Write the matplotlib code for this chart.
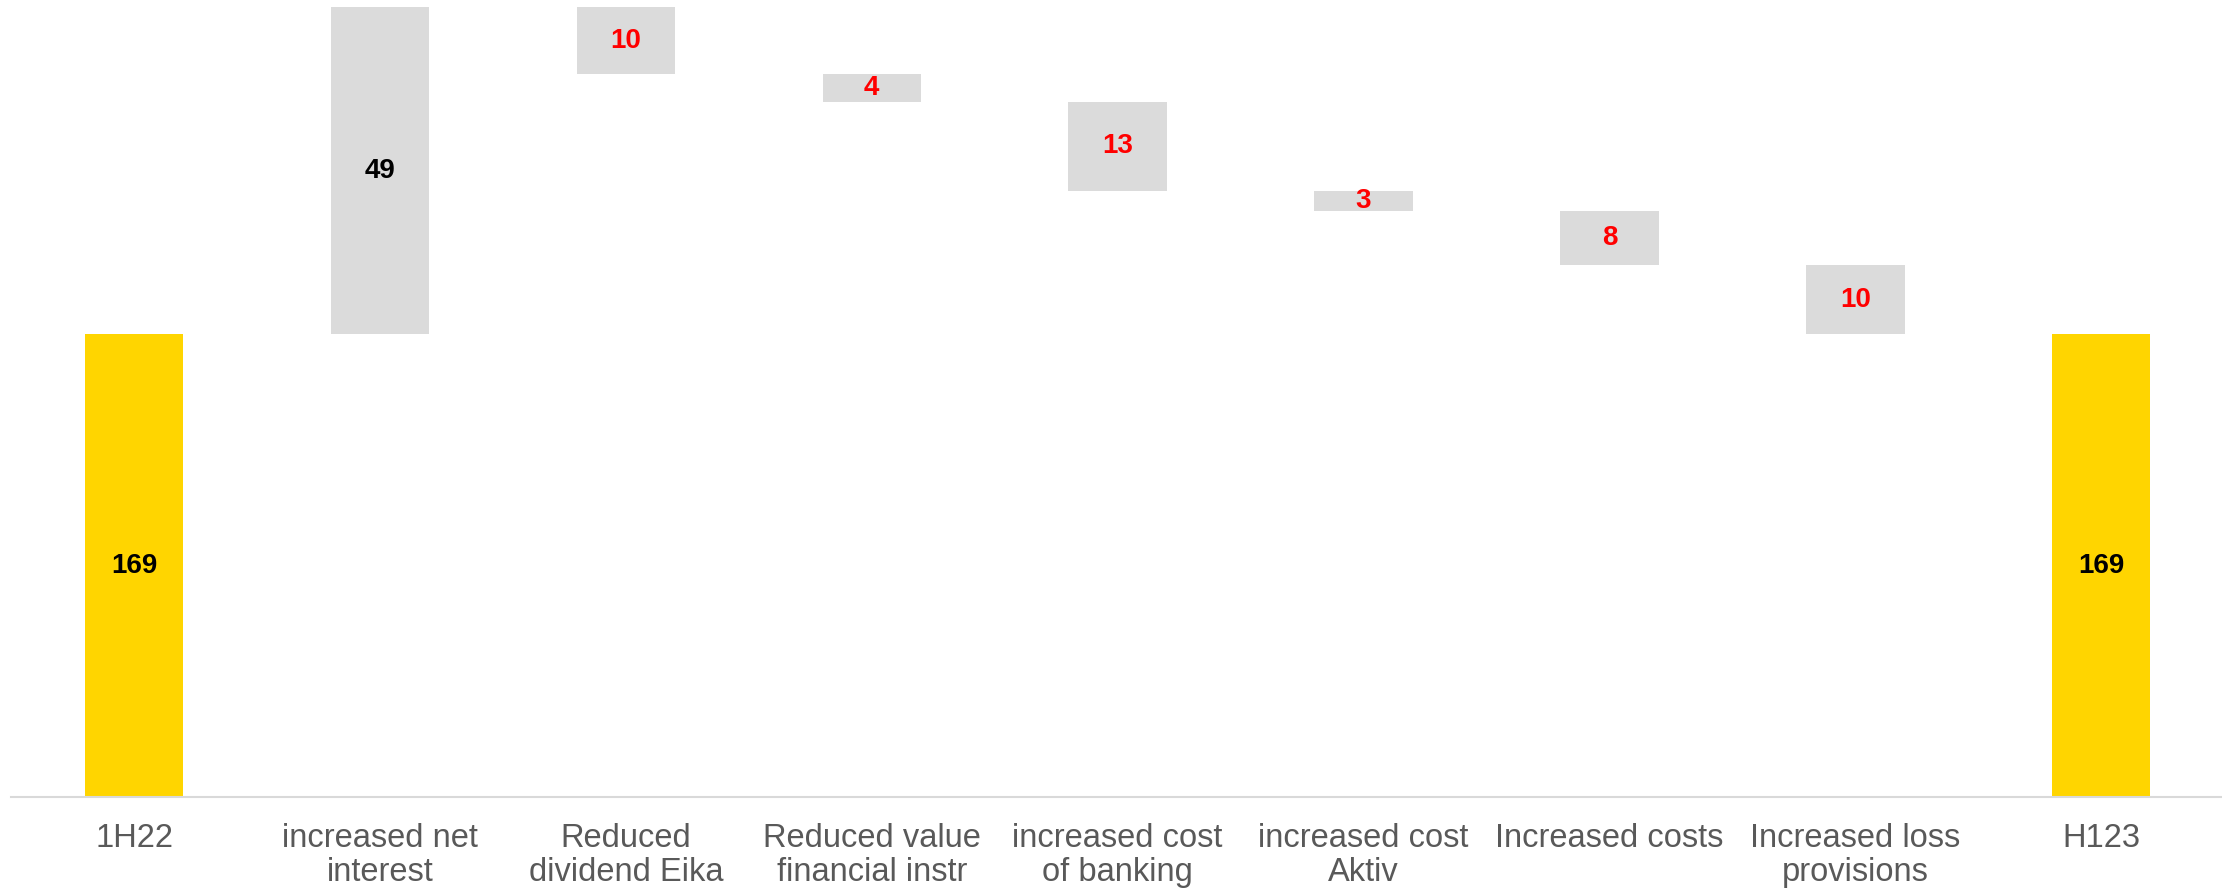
import matplotlib
matplotlib.use("Agg")
import matplotlib.pyplot as plt
import numpy as np

# Profit bridge 1H22 -> H123 (NOK m)
categories = ["1H22", "increased net\ninterest", "Reduced\ndividend Eika",
              "Reduced value\nfinancial instr", "increased cost\nof banking",
              "increased cost\nAktiv", "Increased costs", "Increased loss\nprovisions",
              "H123"]
start_value = 169.0
changes = [48.8, -10.0, -4.1, -13.3, -3.0, -8.0, -10.4]

plt.rcParams["font.family"] = ["Liberation Sans", "DejaVu Sans"]

YELLOW = "#FFD500"
GREY = "#DBDBDB"

fig = plt.figure(figsize=(22.22, 8.89), dpi=100)
ax = fig.add_axes([0.005, 0.1035, 0.996, 0.8965])

x = np.arange(len(categories))
width = 0.40
base = 100.0
label_size = 20

# start total
ax.bar(x[0], start_value - base, bottom=base, width=width, color=YELLOW, zorder=2)
ax.text(x[0], (start_value + base) / 2, f"{start_value:.0f}", ha="center", va="center",
        fontsize=label_size, fontweight="bold", color="black", zorder=3)

running = start_value
for i, ch in enumerate(changes, start=1):
    lo, hi = (running, running + ch) if ch >= 0 else (running + ch, running)
    ax.bar(x[i], hi - lo, bottom=lo, width=width, color=GREY, zorder=2)
    ax.text(x[i], (lo + hi) / 2, f"{abs(ch):.0f}", ha="center", va="center",
            fontsize=label_size, fontweight="bold",
            color="black" if ch >= 0 else "#FF0000", zorder=3)
    running += ch

end_value = running
ax.bar(x[-1], end_value - base, bottom=base, width=width, color=YELLOW, zorder=2)
ax.text(x[-1], (end_value + base) / 2, f"{end_value:.0f}", ha="center", va="center",
        fontsize=label_size, fontweight="bold", color="black", zorder=3)

ax.set_xlim(-0.5, 8.5)
ax.set_ylim(base, 218.9)
ax.set_xticks(x)
ax.set_xticklabels(categories, fontsize=23.5, color="#595959", linespacing=1.1)
ax.tick_params(axis="x", length=0, pad=19)
ax.set_yticks([])
for side in ["top", "right", "left"]:
    ax.spines[side].set_visible(False)
ax.spines["bottom"].set_color("#D9D9D9")
ax.spines["bottom"].set_linewidth(1.5)
ax.spines["bottom"].set_zorder(4)

fig.savefig("out.png", dpi=100, facecolor="white")
